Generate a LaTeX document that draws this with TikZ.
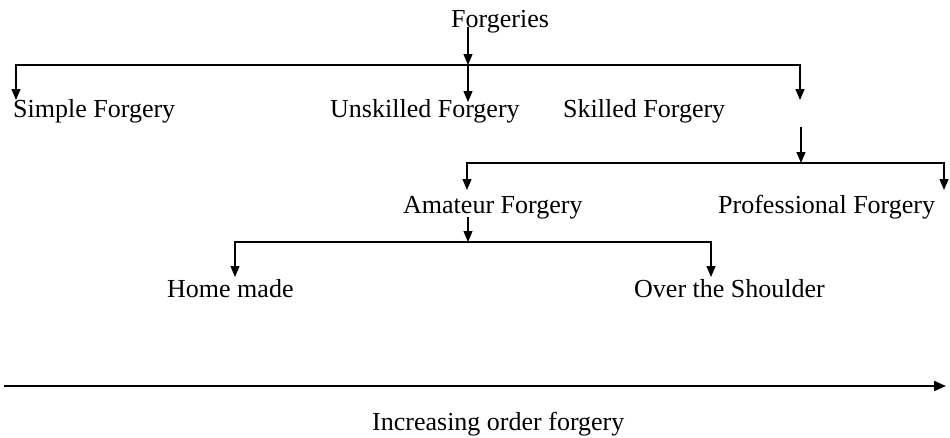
\documentclass[tikz,border=0pt]{standalone}
\usepackage{fontspec}
\setmainfont{Liberation Serif}
\usetikzlibrary{arrows.meta}
\begin{document}
\begin{tikzpicture}[x=1pt,y=-1pt,
  lbl/.style={anchor=base west,inner sep=0pt,font=\fontsize{26}{30}\selectfont},
  conn/.style={line width=1.2pt},
  arr/.style={conn,-{Triangle[length=11pt,width=9pt]}},
  axisarr/.style={line width=2pt,-{Triangle[length=12pt,width=10pt]}}]
\useasboundingbox (0,0) rectangle (950,437);

% labels
\node[lbl] (forg)   at (451,27)  {Forgeries};
\node[lbl] (simple) at (13,117)  {Simple Forgery};
\node[lbl] (unsk)   at (330,117) {Unskilled Forgery};
\node[lbl] (skill)  at (563,117) {Skilled Forgery};
\node[lbl] (amat)   at (403,213) {Amateur Forgery};
\node[lbl] (prof)   at (718,213) {Professional Forgery};
\node[lbl] (home)   at (167,297) {Home made};
\node[lbl] (over)   at (634,297) {Over the Shoulder};
\node[lbl] (incr)   at (372,430) {Increasing order forgery};

% junction points and arrow ends
\coordinate (j1) at (468,65);
\coordinate (t1a) at (16,100);
\coordinate (t1b) at (468,102);
\coordinate (t1c) at (800,100);
\coordinate (s2) at (801,127);
\coordinate (j2) at (801,163);
\coordinate (t2a) at (467,190);
\coordinate (t2b) at (944,190);
\coordinate (s3) at (468,217);
\coordinate (j3) at (468,242);
\coordinate (t3a) at (235,277);
\coordinate (t3b) at (711,277);
\coordinate (ax0) at (4,386);
\coordinate (ax1) at (946,386);

% first level
\draw[arr] (j1 |- forg.base) -- (j1);
\draw[arr] (j1) -| (t1a);
\draw[arr] (j1) -- (t1b);
\draw[arr] (j1) -| (t1c);

% second level
\draw[arr] (s2) -- (j2);
\draw[arr] (j2) -| (t2a);
\draw[arr] (j2) -| (t2b);

% third level
\draw[arr] (s3) -- (j3);
\draw[arr] (j3) -| (t3a);
\draw[arr] (j3) -| (t3b);

% ordering axis
\draw[axisarr] (ax0) -- (ax1);
\end{tikzpicture}
\end{document}
